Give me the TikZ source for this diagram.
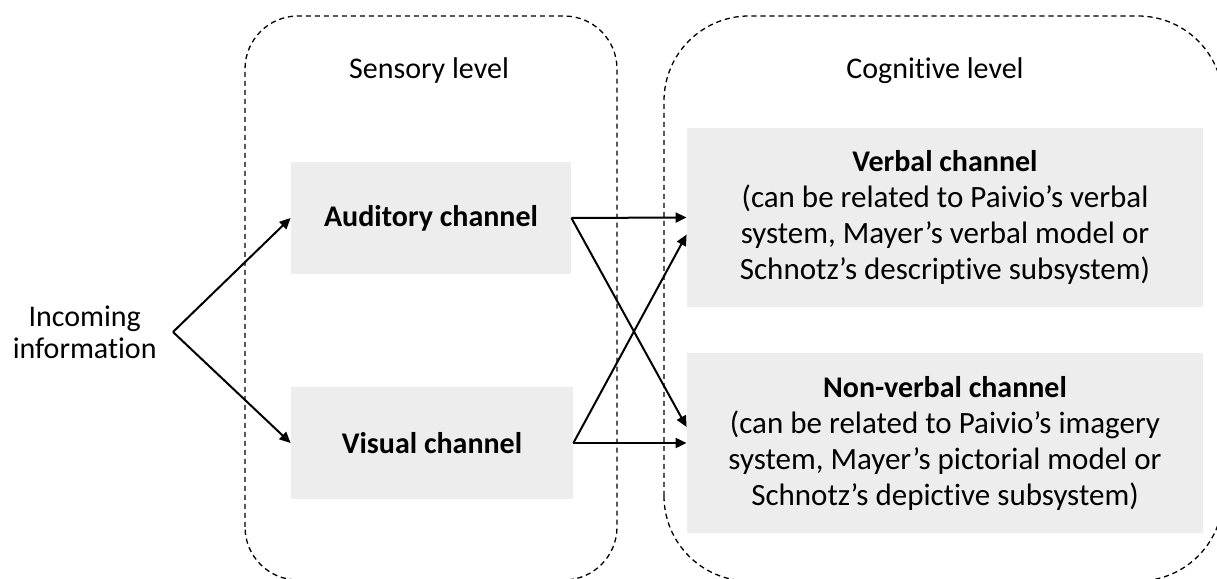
\documentclass[tikz,border=0pt]{standalone}
\usepackage{fontspec}
\setmainfont{Carlito}[Ligatures=NoCommon]
\usetikzlibrary{arrows.meta}
\definecolor{chanfill}{RGB}{237,237,237}
\tikzset{
  level/.style={draw, line width=0.65pt, dash pattern=on 2.6pt off 1.9pt},
  channel/.style={fill=chanfill, inner sep=0pt, align=center, font=\fontsize{15.5}{18}\selectfont},
  plain/.style={align=center, font=\fontsize{15}{16}\selectfont},
  flow/.style={line width=1pt, -{Triangle[length=5.5pt,width=5pt]}},
}
\newcommand{\chtitle}[1]{{\fontsize{15}{18}\selectfont\bfseries #1}}
\begin{document}
\begin{tikzpicture}[x=0.5pt,y=0.5pt]
    \useasboundingbox (0,0) rectangle (1217,579);
    \clip (0,0) rectangle (1217,579);
    % levels
    \draw[level, rounded corners=26.5pt] (245,-1) rectangle (617,563);
    \draw[level, rounded corners=42.5pt] (664,-2) rectangle (1223,563);
    \node[plain] (sensory) at (429,508) {Sensory level};
    \node[plain] (cognitive) at (935,508) {Cognitive level};
    % channels
    \node[channel, minimum width=140pt, minimum height=56pt] (auditory) at (431,361) {\chtitle{Auditory channel}};
    \node[channel, minimum width=141pt, minimum height=56pt] (visual) at (432,136) {\chtitle{Visual channel}};
    \node[channel, minimum width=258pt, minimum height=89.5pt] (verbal) at (945,361.5) {\chtitle{Verbal channel}\\(can be related to Paivio’s verbal\\system, Mayer’s verbal model or\\Schnotz’s descriptive subsystem)};
    \node[channel, minimum width=258pt, minimum height=90pt] (nonverbal) at (945,136) {\chtitle{Non-verbal channel}\\(can be related to Paivio’s imagery\\system, Mayer’s pictorial model or\\Schnotz’s depictive subsystem)};
    \node[plain, anchor=east, inner xsep=8pt] (incoming) at (173,247) {Incoming\\information};
    % arrows
    \draw[flow] (incoming.east) -- (auditory.west);
    \draw[flow] (incoming.east) -- (visual.west);
    \draw[flow] (auditory.east) -- (verbal.west);
    \draw[flow] (auditory.east) -- ([yshift=8pt]nonverbal.west);
    \draw[flow] (visual.east) -- (nonverbal.west);
    \draw[flow] (visual.east) -- ([yshift=-8.5pt]verbal.west);
\end{tikzpicture}
\end{document}
